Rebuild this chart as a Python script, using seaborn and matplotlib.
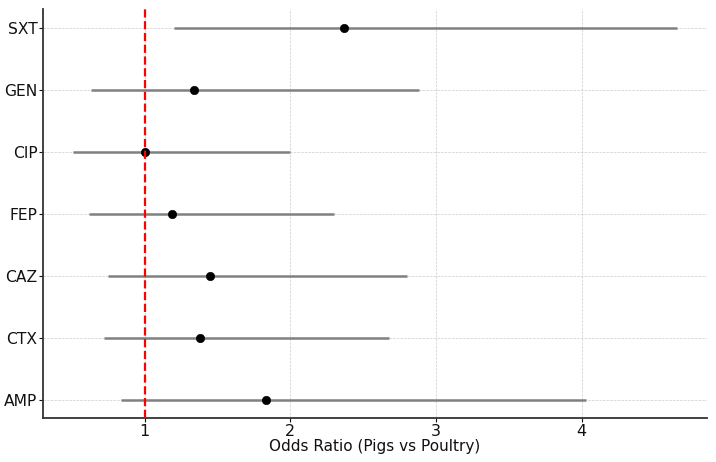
import matplotlib
matplotlib.use("Agg")
import matplotlib.pyplot as plt
import seaborn as sns
import pandas as pd

antibiotics = ["SXT", "GEN", "CIP", "FEP", "CAZ", "CTX", "AMP"]
odds_ratio = [2.37, 1.34, 1.00, 1.19, 1.45, 1.38, 1.83]
ci_lower = [1.20, 0.63, 0.51, 0.62, 0.75, 0.72, 0.84]
ci_upper = [4.65, 2.88, 2.00, 2.30, 2.80, 2.68, 4.03]

df = pd.DataFrame({"Antibiotic": antibiotics, "OR": odds_ratio,
                   "lo": ci_lower, "hi": ci_upper})

sns.set_style("white")
plt.rcParams["font.family"] = ["DejaVu Sans"]

fig, ax = plt.subplots(figsize=(7.16, 4.62), dpi=100)
ax.hlines(y=df["Antibiotic"], xmin=df["lo"], xmax=df["hi"], color="gray",
          linewidth=1.8, zorder=2)
sns.scatterplot(data=df, x="OR", y="Antibiotic", color="black", s=36,
                edgecolor="black", zorder=3, ax=ax)
ax.axvline(1, color="red", linestyle="--", linewidth=1.6, zorder=4)

ax.set_xticks([1, 2, 3, 4])
ax.set_xlabel("Odds Ratio (Pigs vs Poultry)", fontsize=11, color="#111111",
              labelpad=0)
ax.set_ylabel("")
ax.grid(True, linestyle="--", linewidth=0.5, color="#cccccc", zorder=0)
ax.set_axisbelow(True)
sns.despine(ax=ax)
for s in ["left", "bottom"]:
    ax.spines[s].set_color("#333333")
    ax.spines[s].set_linewidth(1.3)
ax.tick_params(axis="x", labelsize=11.5, colors="#111111", length=3,
               width=0.8, bottom=True, pad=1.5)
ax.tick_params(axis="y", labelsize=11.2, colors="#111111", length=3,
               width=0.8, left=True, pad=1.0)

fig.subplots_adjust(left=0.06, right=0.987, top=0.98, bottom=0.095)
fig.savefig("out.png", dpi=100)
